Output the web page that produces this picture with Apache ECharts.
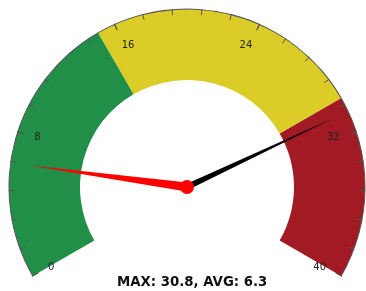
<!DOCTYPE html>
<html lang="en">
<head>
  <meta charset="UTF-8">
  <title>gauge</title>
  <style>
    * { margin: 0; padding: 0; }
    #main { width: 366px; height: 291px; background: #fff; }
  </style>
</head>
<body>
  <div id="main"></div>
  <script src="https://cdn.jsdelivr.net/npm/echarts@6/dist/echarts.min.js"></script>
  <script>
    // 数据
    const gaugeMin = 0
    const gaugeMax = 40
    const bandStops = [15, 30, 40] // 各色段的上限
    const bandColors = ['#228f48', '#dbcc27', '#a11a24']
    const maxValue = 30.8
    const avgValue = 6.3

    const center = [187, 187]
    const radius = 178

    const chart = echarts.init(document.getElementById('main'))

    const base = {
      type: 'gauge',
      center: center,
      radius: radius,
      min: gaugeMin,
      max: gaugeMax,
      startAngle: 210,
      endAngle: -30,
      splitNumber: 5,
      animation: false,
      title: { show: false },
      detail: { show: false }
    }

    chart.setOption({
      title: {
        text: 'MAX: ' + maxValue + ', AVG: ' + avgValue,
        left: 112,
        top: 271,
        textStyle: { fontFamily: 'DejaVu Sans', fontSize: 13.3, fontWeight: 'bold', color: '#111' }
      },
      series: [
        // 色带
        Object.assign({}, base, {
          axisLine: {
            lineStyle: {
              width: 71,
              color: bandStops.map((v, i) => [(v - gaugeMin) / (gaugeMax - gaugeMin), bandColors[i]])
            }
          },
          axisTick: { show: false },
          splitLine: { show: false },
          axisLabel: { show: false },
          pointer: { show: false },
          data: []
        }),
        // 外边线 + 刻度 + 标签
        Object.assign({}, base, {
          radius: radius + 0.5,
          axisLine: { lineStyle: { width: 1, color: [[1, '#555']] } },
          axisTick: { show: true, splitNumber: 5, distance: -1, length: 6, lineStyle: { color: '#555', width: 1 } },
          splitLine: { show: true, distance: -1, length: 7, lineStyle: { color: '#555', width: 1 } },
          axisLabel: { distance: 12, fontFamily: 'DejaVu Sans', fontSize: 10, color: '#222' },
          pointer: { show: false },
          data: []
        }),
        // MAX 指针
        Object.assign({}, base, {
          axisLine: { show: false },
          axisTick: { show: false },
          splitLine: { show: false },
          axisLabel: { show: false },
          pointer: { icon: 'triangle', length: 161, width: 6, offsetCenter: [0, 0] },
          itemStyle: { color: '#000' },
          data: [{ value: maxValue, name: 'MAX' }]
        }),
        // AVG 指针
        Object.assign({}, base, {
          axisLine: { show: false },
          axisTick: { show: false },
          splitLine: { show: false },
          axisLabel: { show: false },
          pointer: { icon: 'triangle', length: 160, width: 9, offsetCenter: [0, 0] },
          anchor: { show: true, showAbove: true, size: 14, itemStyle: { color: '#ff0000' } },
          itemStyle: { color: '#ff0000' },
          data: [{ value: avgValue, name: 'AVG' }]
        })
      ]
    })
  </script>
</body>
</html>
